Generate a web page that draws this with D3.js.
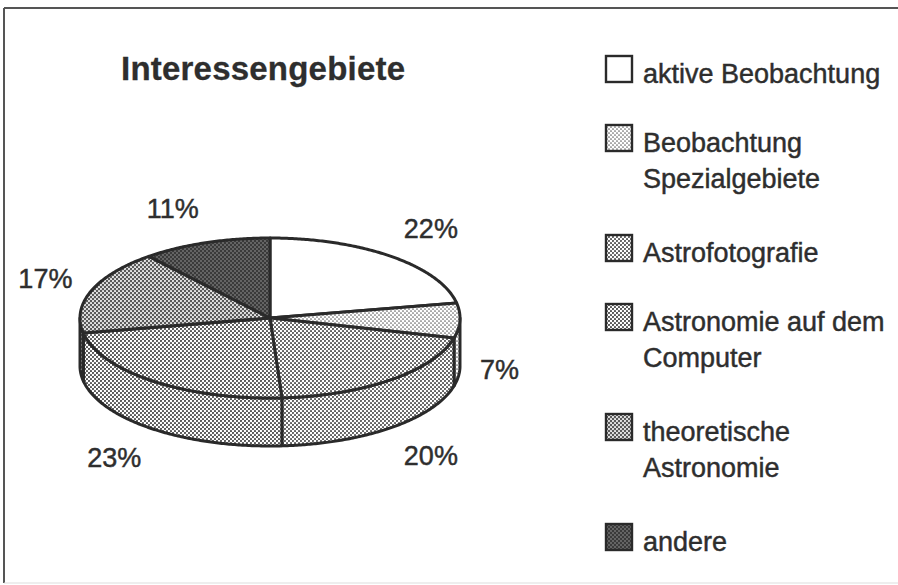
<!DOCTYPE html>
<html>
<head>
<meta charset="utf-8">
<script src="https://cdn.jsdelivr.net/npm/d3@7"></script>
<style>
  html, body { margin: 0; padding: 0; background: #fff; }
  svg { display: block; }
  text { font-family: "Liberation Sans", Arial, Helvetica, sans-serif; fill: #2e2e2e; stroke: #2e2e2e; stroke-width: 0.45px; }
</style>
</head>
<body>
<svg id="chart" width="898" height="585"></svg>
<script>
// ---- Data ----
const title = "Interessengebiete";
const categories = ["aktive Beobachtung", "Beobachtung Spezialgebiete", "Astrofotografie",
                    "Astronomie auf dem Computer", "theoretische Astronomie", "andere"];
const legendLines = [["aktive Beobachtung"], ["Beobachtung", "Spezialgebiete"], ["Astrofotografie"],
                     ["Astronomie auf dem", "Computer"], ["theoretische", "Astronomie"], ["andere"]];
const values = [22, 7, 20, 23, 17, 11];
const valueLabels = values.map(v => v + "%");
const patternIds = ["pWhite", "pSpezial", "pFoto", "pComp", "pTheo", "pAndere"];

// ---- Layout ----
const W = 898, H = 585;
const cx = 270, cy = 318, rx = 190, ry = 80, depth = 48;
const stroke = "#2a2a2a";

const svg = d3.select("#chart");

// patterns
const defs = svg.append("defs");
function dotPattern(id, bg, dot, r, size) {
  const p = defs.append("pattern").attr("id", id).attr("patternUnits", "userSpaceOnUse")
    .attr("width", size).attr("height", size);
  p.append("rect").attr("width", size).attr("height", size).attr("fill", bg);
  if (dot) {
    p.append("circle").attr("cx", size / 4).attr("cy", size / 4).attr("r", r).attr("fill", dot);
    p.append("circle").attr("cx", 3 * size / 4).attr("cy", 3 * size / 4).attr("r", r).attr("fill", dot);
  }
}
dotPattern("pWhite", "#fff", null, 0, 4);
dotPattern("pSpezial", "#fff", "#666", 0.85, 4);
dotPattern("pFoto", "#fff", "#555", 1.05, 4);
dotPattern("pComp", "#fff", "#4d4d4d", 1.1, 4);
dotPattern("pTheo", "#5a5a5a", "#eee", 1.05, 4);
dotPattern("pAndere", "#3a3a3a", "#9a9a9a", 0.8, 4);

const fillScale = d3.scaleOrdinal().domain(categories).range(patternIds.map(id => `url(#${id})`));

// frame
svg.append("line").attr("x1", 4).attr("y1", 8).attr("x2", W).attr("y2", 8)
  .attr("stroke", "#555").attr("stroke-width", 2);
svg.append("line").attr("x1", 4).attr("y1", 8).attr("x2", 4).attr("y2", 583)
  .attr("stroke", "#555").attr("stroke-width", 2);
svg.append("line").attr("x1", 4).attr("y1", 583).attr("x2", W).attr("y2", 583)
  .attr("stroke", "#ddd").attr("stroke-width", 1);

// title
svg.append("text").attr("x", 121).attr("y", 80)
  .attr("font-size", 33).attr("font-weight", "bold")
  .attr("textLength", 284).attr("lengthAdjust", "spacing")
  .style("stroke-width", "0.3px")
  .text(title);

// pie
const pie = d3.pie().sort(null).value(d => d.v).startAngle(0).endAngle(2 * Math.PI);
const arcs = pie(values.map((v, i) => ({ v, cat: categories[i], label: valueLabels[i] })));

const pt = (a, dy = 0) => [cx + rx * Math.sin(a), cy - ry * Math.cos(a) + dy];
function arcPoints(a0, a1, dy = 0) {
  const n = Math.max(2, Math.ceil(Math.abs(a1 - a0) / 0.01));
  return d3.range(n + 1).map(i => pt(a0 + (a1 - a0) * i / n, dy));
}
const line = d3.line();

const gPie = svg.append("g");
// side walls (front half only)
arcs.forEach(d => {
  const s = Math.max(d.startAngle, Math.PI / 2), e = Math.min(d.endAngle, 3 * Math.PI / 2);
  if (e <= s) return;
  const pts = arcPoints(s, e).concat(arcPoints(e, s, depth));
  gPie.append("path").attr("d", line(pts) + "Z")
    .attr("fill", fillScale(d.data.cat)).attr("stroke", stroke)
    .attr("stroke-width", 3).attr("stroke-linejoin", "round");
});
// top faces
arcs.forEach(d => {
  const pts = [[cx, cy]].concat(arcPoints(d.startAngle, d.endAngle));
  gPie.append("path").attr("d", line(pts) + "Z")
    .attr("fill", fillScale(d.data.cat)).attr("stroke", stroke)
    .attr("stroke-width", 3).attr("stroke-linejoin", "round");
});

// value labels
arcs.forEach(d => {
  const m = (d.startAngle + d.endAngle) / 2;
  const s = Math.sin(m), c = Math.cos(m);
  const lx = cx + (rx + 20) * s;
  const ly = cy - (ry + 36) * c + (c < 0 ? depth : 0);
  svg.append("text").attr("x", lx).attr("y", ly).attr("dy", "0.35em")
    .attr("text-anchor", s >= 0 ? "start" : "end").attr("font-size", 27)
    .text(d.data.label);
});

// legend
const lg = svg.append("g");
let base = 83;
legendLines.forEach((lines, i) => {
  lg.append("rect").attr("x", 606).attr("y", base - 27).attr("width", 26).attr("height", 26)
    .attr("fill", fillScale(categories[i])).attr("stroke", stroke).attr("stroke-width", 2.4);
  lines.forEach((t, j) => {
    lg.append("text").attr("x", 643).attr("y", base + j * 36)
      .attr("font-size", 27).text(t);
  });
  base += 69 + 41 * (lines.length - 1);
});
</script>
</body>
</html>
